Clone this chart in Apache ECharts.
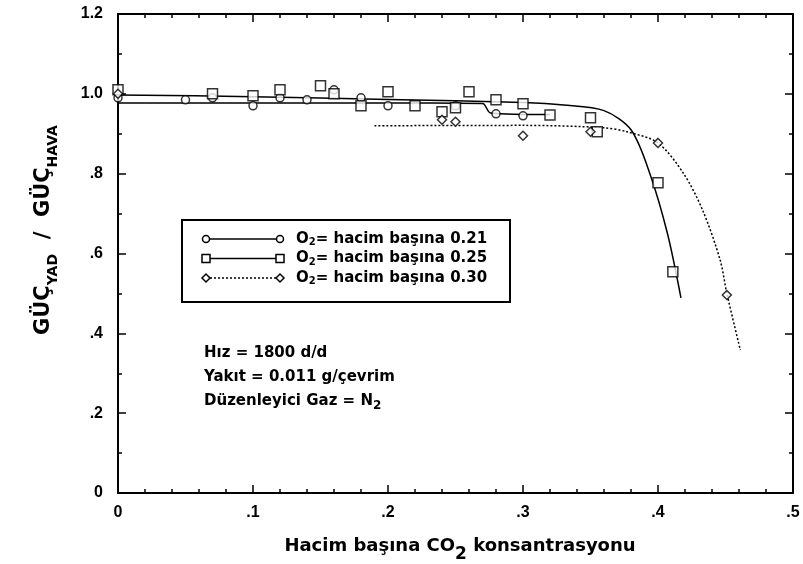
<!DOCTYPE html>
<html>
<head>
<meta charset="utf-8">
<script src="https://cdn.jsdelivr.net/npm/echarts@6/dist/echarts.min.js"></script>
<style>html,body{margin:0;padding:0;background:#fff;}#c{width:803px;height:564px;}</style>
</head>
<body>
<div id="c"></div>
<script>
// ---- data ----
var xTicks = ['0', '.1', '.2', '.3', '.4', '.5'];
var yTicks = ['0', '.2', '.4', '.6', '.8', '1.0', '1.2'];
// fitted curves
var curve021 = [[0,0.997],[0.1,0.993],[0.2,0.986],[0.3,0.978],[0.33,0.972],[0.36,0.958],[0.38,0.91],[0.394,0.80],[0.407,0.65],[0.417,0.489]];
var curve025 = [[0,0.977],[0.1,0.977],[0.2,0.977],[0.27,0.976],[0.276,0.952],[0.32,0.948]];
var curve030 = [[0.19,0.92],[0.3,0.921],[0.36,0.915],[0.377,0.905],[0.40,0.877],[0.419,0.80],[0.433,0.709],[0.446,0.584],[0.451,0.50],[0.461,0.358]];
// measured points
var pts021 = [[0,0.99],[0.05,0.985],[0.07,0.99],[0.10,0.97],[0.12,0.99],[0.14,0.985],[0.16,1.01],[0.18,0.99],[0.20,0.97],[0.25,0.97],[0.28,0.95],[0.30,0.945]];
var pts025 = [[0,1.01],[0.07,1.0],[0.10,0.995],[0.12,1.01],[0.15,1.02],[0.16,1.0],[0.18,0.97],[0.20,1.005],[0.22,0.97],[0.24,0.955],[0.25,0.965],[0.26,1.005],[0.28,0.985],[0.30,0.975],[0.32,0.947],[0.35,0.94],[0.355,0.905],[0.40,0.777],[0.411,0.554]];
var pts030 = [[0,1.0],[0.24,0.935],[0.25,0.93],[0.30,0.895],[0.35,0.905],[0.40,0.877],[0.451,0.496]];
var legendNames = ['0.21', '0.25', '0.30'];

var chart = echarts.init(document.getElementById('c'), null, {renderer: 'canvas'});
var F = 'Liberation Sans, Arial, sans-serif';
var V = 'DejaVu Sans, Verdana, sans-serif';
function xfmt(v){ var i = Math.round(v*10); return xTicks[i] !== undefined ? xTicks[i] : ''; }
function yfmt(v){ var i = Math.round(v*5); return yTicks[i] !== undefined ? yTicks[i] : ''; }
var axLine = {show: true, onZero: false, lineStyle: {color: '#000', width: 2}};
function xAx(pos, lab){
  return {type: 'value', min: 0, max: 0.5, interval: 0.1, position: pos,
    axisLine: axLine, splitLine: {show: false},
    axisTick: {show: true, inside: true, length: 8, lineStyle: {color: '#000', width: 1.5}},
    minorTick: {show: true, splitNumber: 5, length: 4, lineStyle: {color: '#000', width: 1.5}},
    axisLabel: {show: lab, formatter: xfmt, color: '#000', fontFamily: F, fontWeight: 'bold', fontSize: 16, margin: 12}};
}
function yAx(pos, lab){
  return {type: 'value', min: 0, max: 1.2, interval: 0.2, position: pos,
    axisLine: axLine, splitLine: {show: false},
    axisTick: {show: true, inside: true, length: 8, lineStyle: {color: '#000', width: 1.5}},
    minorTick: {show: true, splitNumber: 2, length: 4, lineStyle: {color: '#000', width: 1.5}},
    axisLabel: {show: lab, formatter: yfmt, color: '#000', fontFamily: F, fontWeight: 'bold', fontSize: 16, margin: 15}};
}
var hollow = {color: '#fff', borderColor: '#000', borderWidth: 1.5};
var lx = 206, ly = 239, lgap = 19.5;
var legendGraphics = [
  {type: 'rect', shape: {x: 182, y: 220, width: 328, height: 82}, style: {fill: '#fff', stroke: '#000', lineWidth: 2}, z: 10}
];
for (var i = 0; i < 3; i++) {
  var yy = ly + i*lgap;
  legendGraphics.push({type: 'line', shape: {x1: lx+4, y1: yy, x2: lx+70, y2: yy}, style: {stroke: '#000', lineWidth: 1.5, lineDash: i === 2 ? [2, 2] : null}, z: 11});
  var shp = i === 0 ? {type: 'circle', shape: {cx: 0, cy: 0, r: 3.5}} : i === 1 ? {type: 'rect', shape: {x: -4, y: -4, width: 8, height: 8}} : {type: 'polygon', shape: {points: [[0,-4],[4,0],[0,4],[-4,0]]}};
  [lx, lx+74].forEach(function(px){
    legendGraphics.push({type: shp.type, shape: shp.shape, x: px, y: yy, style: {fill: '#fff', stroke: '#000', lineWidth: 1.5}, z: 12});
  });
  legendGraphics.push({type: 'text', x: 296, y: yy, style: {text: 'O{s|2}= hacim başına ' + legendNames[i], verticalAlign: 'middle', fill: '#000', font: 'bold 15px ' + V, rich: {s: {fontSize: 10, fontFamily: V, fontWeight: 'bold', padding: [7,0,0,0]}}}, z: 12});
}
var notes = [
  {type: 'text', x: 204, y: 353, style: {text: 'Hız = 1800 d/d', verticalAlign: 'middle', fill: '#000', font: 'bold 15px ' + V}},
  {type: 'text', x: 204, y: 377, style: {text: 'Yakıt = 0.011 g/çevrim', verticalAlign: 'middle', fill: '#000', font: 'bold 15px ' + V}},
  {type: 'text', x: 204, y: 401, style: {text: 'Düzenleyici Gaz = N{s|2}', verticalAlign: 'middle', fill: '#000', font: 'bold 15px ' + V, rich: {s: {fontSize: 12, fontFamily: V, fontWeight: 'bold', padding: [10,0,0,0]}}}},
  {type: 'text', x: 460, y: 546, style: {text: 'Hacim başına CO{s|2} konsantrasyonu', align: 'center', verticalAlign: 'middle', fill: '#000', font: 'bold 18px ' + V, rich: {s: {fontSize: 17, fontFamily: V, fontWeight: 'bold', padding: [18,0,0,0]}}}},
  {type: 'text', x: 44, y: 230, rotation: Math.PI/2, style: {text: 'GÜÇ{s|YAD}  /  GÜÇ{s|HAVA}', align: 'center', verticalAlign: 'middle', fill: '#000', font: 'bold 21px ' + V, rich: {s: {fontSize: 14, fontFamily: V, fontWeight: 'bold', padding: [18,0,0,0]}}}}
];
chart.setOption({
  backgroundColor: '#fff',
  animation: false,
  grid: {left: 118, right: 10, top: 14, bottom: 71},
  xAxis: [xAx('bottom', true), xAx('top', false)],
  yAxis: [yAx('left', true), yAx('right', false)],
  series: [
    {type: 'line', data: curve021, smooth: 0.3, symbol: 'none', lineStyle: {color: '#000', width: 1.5}},
    {type: 'line', data: curve025, smooth: 0.3, symbol: 'none', lineStyle: {color: '#000', width: 1.5}},
    {type: 'line', data: curve030, smooth: 0.3, symbol: 'none', lineStyle: {color: '#000', width: 1.5, type: [2, 2]}},
    {type: 'scatter', data: pts021, symbol: 'circle', symbolSize: 8, itemStyle: hollow, z: 5},
    {type: 'scatter', data: pts025, symbol: 'rect', symbolSize: 10, itemStyle: hollow, z: 5},
    {type: 'scatter', data: pts030, symbol: 'diamond', symbolSize: 9, itemStyle: hollow, z: 5}
  ],
  graphic: legendGraphics.concat(notes)
});
</script>
</body>
</html>
